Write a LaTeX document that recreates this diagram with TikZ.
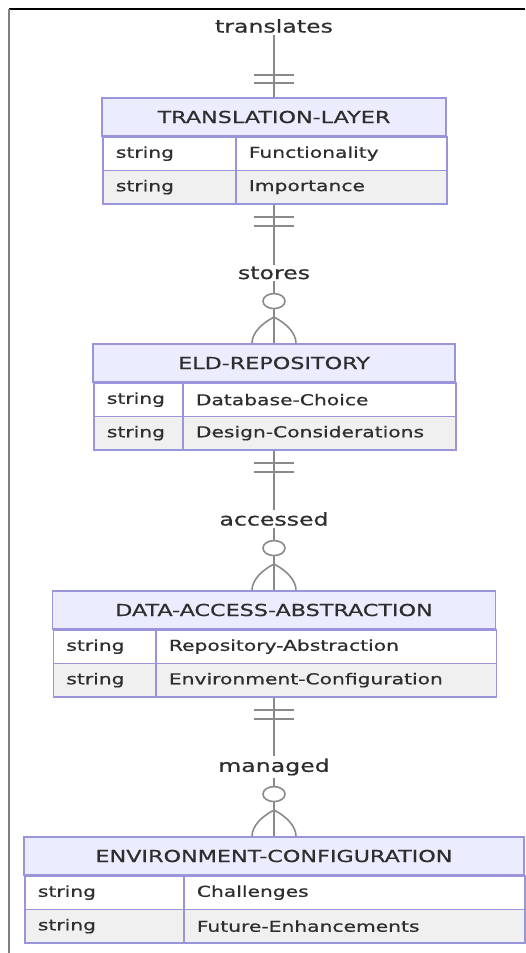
\documentclass[tikz,border=0pt]{standalone}
\usepackage{fontspec}
\newfontfamily\erfont{DejaVu Sans}[FakeStretch=1.35,FakeBold=0.7]
\usepackage{tikz}
\usetikzlibrary{calc}

\definecolor{bordure}{HTML}{9A94DA}
\definecolor{lavande}{HTML}{ECECFF}
\definecolor{grisclair}{HTML}{F0F0F0}
\definecolor{trait}{HTML}{8A8A8A}
\definecolor{texte}{HTML}{2E2E2E}

\tikzset{
  entete/.style={draw=bordure, fill=lavande, line width=1.8pt, minimum height=38pt, inner sep=0pt, text=texte, font=\erfont\fontsize{16.5}{18}\selectfont},
  cellule/.style={draw=bordure, fill=white, line width=1.8pt, anchor=north west, minimum height=33.5pt, inner xsep=13pt, inner ysep=0pt, align=left, text=texte, font=\erfont\fontsize{15}{17}\selectfont},
  cellgris/.style={cellule, fill=grisclair},
  relation/.style={text=texte, inner sep=2pt, font=\erfont\fontsize{17.5}{19}\selectfont},
  lien/.style={draw=trait, line width=1.6pt}
}

\begin{document}
\begin{tikzpicture}[x=1pt,y=1pt]
\useasboundingbox (0,0) rectangle (525,-953);
\draw[black, line width=1.5pt] (9,-9) -- (525,-9);
\draw[gray, line width=2.5pt] (9,-9) -- (9,-953);

\node[entete, minimum width=344pt] (trad) at (274,-117) {TRANSLATION-LAYER};
\node[cellule, text width=107pt] (trad-t1) at (102,-136) {string};
\node[cellule, text width=185pt] (trad-n1) at (235,-136) {Functionality};
\node[cellgris, text width=107pt] (trad-t2) at (102,-169.5) {string};
\node[cellgris, text width=185pt] (trad-n2) at (235,-169.5) {Importance};
\coordinate (trad-bas) at (trad.south |- trad-n2.south);

\node[entete, minimum width=362pt] (erep) at (274,-363) {ELD-REPOSITORY};
\node[cellule, text width=63pt] (erep-t1) at (93,-382) {string};
\node[cellule, text width=247pt] (erep-n1) at (182,-382) {Database-Choice};
\node[cellgris, text width=63pt] (erep-t2) at (93,-415.5) {string};
\node[cellgris, text width=247pt] (erep-n2) at (182,-415.5) {Design-Considerations};
\coordinate (erep-bas) at (erep.south |- erep-n2.south);

\node[entete, minimum width=443pt] (dacc) at (274,-610) {DATA-ACCESS-ABSTRACTION};
\node[cellule, text width=76.5pt] (dacc-t1) at (52.5,-629) {string};
\node[cellule, text width=314.5pt] (dacc-n1) at (155,-629) {Repository-Abstraction};
\node[cellgris, text width=76.5pt] (dacc-t2) at (52.5,-662.5) {string};
\node[cellgris, text width=314.5pt] (dacc-n2) at (155,-662.5) {Environment-Configuration};
\coordinate (dacc-bas) at (dacc.south |- dacc-n2.south);

\node[entete, minimum width=500pt] (envc) at (274,-856) {ENVIRONMENT-CONFIGURATION};
\node[cellule, text width=133pt] (envc-t1) at (24,-875) {string};
\node[cellule, text width=315pt] (envc-n1) at (183,-875) {Challenges};
\node[cellgris, text width=133pt] (envc-t2) at (24,-908.5) {string};
\node[cellgris, text width=315pt] (envc-n2) at (183,-908.5) {Future-Enhancements};

\node[relation] (translates) at (274,-26) {translates};
\node[relation] (stores) at (274,-273) {stores};
\node[relation] (accessed) at (274,-519) {accessed};
\node[relation] (managed) at (274,-767) {managed};

\draw[lien] (translates) -- (trad.north);
\draw[lien] (trad-bas) -- (stores) -- (erep.north);
\draw[lien] (erep-bas) -- (accessed) -- (dacc.north);
\draw[lien] (dacc-bas) -- (managed) -- (envc.north);

\foreach \d in {14,22}
  \draw[lien] ($(trad.north)+(-20,\d)$) -- ++(40,0);
\foreach \ent in {trad,erep,dacc}{
  \foreach \d in {12,21}
    \draw[lien] ($(\ent-bas)+(-20,-\d)$) -- ++(40,0);
}
\foreach \ent in {erep,dacc,envc}{
  \draw[lien] ($(\ent.north)+(0,26)$) .. controls ($(\ent.north)+(-12,20)$) and ($(\ent.north)+(-22,10)$) .. ($(\ent.north)+(-22,0)$);
  \draw[lien] ($(\ent.north)+(0,26)$) .. controls ($(\ent.north)+(12,20)$) and ($(\ent.north)+(22,10)$) .. ($(\ent.north)+(22,0)$);
  \draw[lien, fill=white] ($(\ent.north)+(0,42)$) ellipse [x radius=11, y radius=7.5];
}
\end{tikzpicture}
\end{document}
